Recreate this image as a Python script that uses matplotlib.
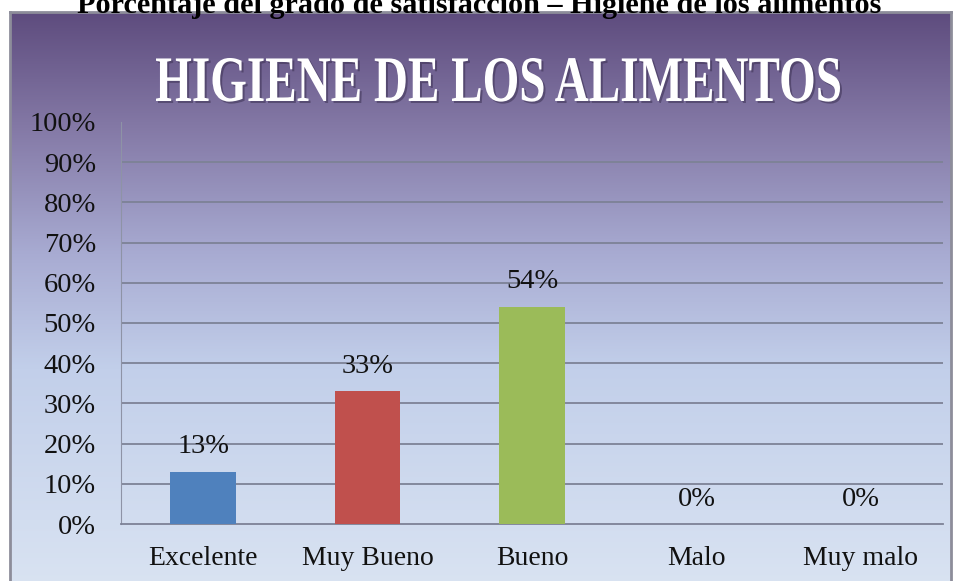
import numpy as np
import matplotlib.pyplot as plt
import matplotlib.patheffects as pe
from matplotlib.colors import LinearSegmentedColormap
from matplotlib.textpath import TextPath
from matplotlib.patches import PathPatch
from matplotlib.font_manager import FontProperties
from matplotlib.transforms import Affine2D

# datos de la encuesta
categorias = ["Excelente", "Muy Bueno", "Bueno", "Malo", "Muy malo"]
porcentajes = [13, 33, 54, 0, 0]
colores = ["#4f81bd", "#c0504d", "#9bbb59", "#8064a2", "#4bacc6"]
marcas_y = [0, 10, 20, 30, 40, 50, 60, 70, 80, 90, 100]

plt.rcParams['font.family'] = ['Liberation Serif', 'DejaVu Serif']

W, H = 958, 581
fig = plt.figure(figsize=(W / 100, H / 100), dpi=100)

######### fondo degradado del grafico #########
caja = [10 / W, -6 / H, (951 - 10) / W, (H - 12 + 6) / H]
ax_bg = fig.add_axes(caja)
degradado = LinearSegmentedColormap.from_list(
    "fondo", [(0.0, "#5e4c7e"), (0.2, "#8479a6"), (0.42, "#a8abd2"),
              (0.62, "#c2cfea"), (1.0, "#d9e3f2")])
ax_bg.imshow(np.linspace(0, 1, 256).reshape(-1, 1), cmap=degradado,
             aspect="auto", extent=[0, 1, 1, 0])
ax_bg.set_xlim(0, 1)
ax_bg.set_ylim(1, 0)
ax_bg.set_xticks([])
ax_bg.set_yticks([])
for s in ax_bg.spines.values():
    s.set_color("#8d8d9a")
    s.set_linewidth(2)

######### titulo superior #########
fig.text(0.5, 1 - 13 / H, "Porcentaje del grado de satisfacción – Higiene de los alimentos",
         ha="center", va="baseline", fontsize=21.8, fontweight="bold", color="black")

# titulo del grafico: letras estrechas (se escala el trazo de la fuente)
ax_t = fig.add_axes([0, 0, 1, 1])
ax_t.set_xlim(0, W)
ax_t.set_ylim(H, 0)
ax_t.axis("off")
titulo = "HIGIENE DE LOS ALIMENTOS"
tp = TextPath((0, 0), titulo, size=1, prop=FontProperties(family="Liberation Serif", weight="bold"))
ext = tp.get_extents()
ancho, alto_may = 684, 43
sx = ancho / ext.width
sy = alto_may / 0.662
x0 = 498 - ancho / 2 - ext.x0 * sx
base = 101
tr = Affine2D().scale(sx, -sy).translate(x0, base)
for dx, col, z in [(2, "#3b3052", 1), (0, "white", 2)]:
    p = PathPatch(tr.transform_path(tp), facecolor=col, edgecolor="none",
                  alpha=0.55 if z == 1 else 1.0, zorder=z,
                  transform=ax_t.transData + Affine2D().translate(dx, -dx))
    ax_t.add_patch(p)

######### barras #########
ax = fig.add_axes([121 / W, 57 / H, (943 - 121) / W, (524 - 122) / H])
ax.patch.set_alpha(0)
x = np.arange(len(categorias))
barras = ax.bar(x, porcentajes, width=0.4, color=colores, zorder=3)
for b, v in zip(barras, porcentajes):
    ax.annotate(f"{v}%", (b.get_x() + b.get_width() / 2, v), xytext=(0, 25),
                textcoords="offset pixels", ha="center", va="center", fontsize=20.5,
                color="#111111")

ax.set_xlim(-0.5, len(categorias) - 0.5)
ax.set_ylim(0, 100)
ax.set_yticks(marcas_y)
ax.set_yticklabels([f"{m}%" for m in marcas_y])
ax.set_xticks(x)
ax.set_xticklabels(categorias)
ax.tick_params(axis="y", length=0, pad=18, labelsize=20.5, labelcolor="#111111")
ax.tick_params(axis="x", length=0, pad=16, labelsize=20, labelcolor="#111111")
for m in marcas_y[1:-1]:
    ax.axhline(m, color="#7d8296", linewidth=1.3, zorder=1)
ax.spines["top"].set_visible(False)
ax.spines["right"].set_visible(False)
ax.spines["left"].set_color("#8e93a6")
ax.spines["bottom"].set_color("#7d8296")
ax.spines["bottom"].set_linewidth(1.3)

fig.savefig("out.png", dpi=100)
